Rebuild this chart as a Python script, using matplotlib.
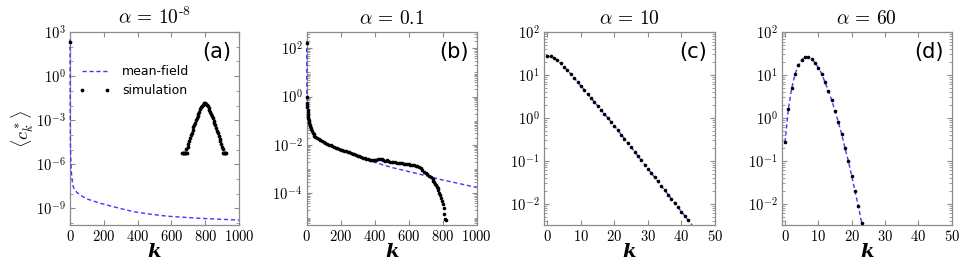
import numpy as np
import matplotlib
matplotlib.use('Agg')
import matplotlib.pyplot as plt
from matplotlib.ticker import FixedLocator, FuncFormatter, LogLocator, NullFormatter

plt.rcParams['mathtext.fontset'] = 'cm'
plt.rcParams['font.family'] = ['DejaVu Sans']

# ---- data (log10 values for the wide panels) ----
titles = [r'$\alpha\,=\,10^{\text{-8}}$', r'$\alpha\,=\,0.1$', r'$\alpha\,=\,10$',
          r'$\alpha\,=\,60$']
panel_tags = ['(a)', '(b)', '(c)', '(d)']

# (a) alpha = 1e-8
a_mf_k = [0, 1, 2, 3, 5, 8, 12, 16, 25, 40, 60, 100, 180, 280, 375, 470, 570, 670, 770, 880, 1000]
a_mf_log = [2.5, -2.0, -4.0, -5.0, -5.8, -6.5, -7.0, -7.4, -7.7, -7.9, -8.09, -8.35, -8.65,
            -8.95, -9.22, -9.38, -9.52, -9.60, -9.67, -9.73, -9.79]
a_sim_k = [0, 664, 668, 672, 676, 680, 684, 688, 692, 696,
           700, 705, 710, 715, 720, 725, 730, 735, 740, 745, 750, 755, 760, 765, 770, 775,
           780, 785, 790, 795, 800, 805, 810, 815, 820, 825, 830, 835, 840, 845, 850, 855,
           860, 865, 870, 875, 880, 885, 890, 895, 900, 904, 908, 912, 916, 920, 924]
a_sim_log = [2.3, -5.25, -5.25, -5.25, -5.25, -5.25, -5.25, -4.95, -5.25, -4.85,
             -4.6, -4.4, -4.22, -4.03, -3.85, -3.66, -3.48, -3.32, -3.16, -3.0, -2.85, -2.71,
             -2.55, -2.41, -2.27, -2.13, -2.02, -1.94, -1.88, -1.85, -1.85, -1.89, -1.95, -2.03,
             -2.15, -2.29, -2.43, -2.58, -2.73, -2.88, -3.04, -3.19, -3.35, -3.52, -3.70, -3.88,
             -4.07, -4.25, -4.43, -4.62, -4.8, -4.95, -5.25, -5.25, -5.25, -5.25, -5.25]

# (b) alpha = 0.1
b_mf_k = [0, 1, 2, 5, 10, 20, 40, 80, 150, 250, 350, 400, 500, 600, 700, 800, 900, 1000]
b_mf_log = [2.3, 0.0, -0.3, -0.6, -0.88, -1.22, -1.55, -1.8, -2.05, -2.33, -2.58, -2.72,
            -2.93, -3.10, -3.27, -3.45, -3.60, -3.76]
b_sim_k = [0, 1, 2, 3, 4, 5, 6, 7, 8, 9, 10, 12, 14, 16, 18, 20, 23, 26, 30, 35, 40, 45, 50,
           60, 70, 80, 90, 100, 110, 120, 130, 140, 150, 160, 170, 180, 190, 200, 210, 220,
           230, 240, 250, 260, 270, 280, 290, 300, 310, 320, 330, 340, 350, 360, 370, 380,
           390, 400, 410, 420, 430, 440, 450, 460, 470, 480, 490, 500, 510, 520, 530, 540,
           550, 560, 570, 580, 590, 600, 610, 620, 630, 640, 650, 660, 670, 680, 690, 700,
           710, 720, 730, 740, 745, 750, 755, 760, 765, 770, 775, 780, 785, 790, 795, 800,
           805, 810, 815, 820]
b_sim_log = [2.2, 0.0, -0.25, -0.35, -0.45, -0.55, -0.62, -0.70, -0.76, -0.83, -0.88, -0.96,
             -1.04, -1.10, -1.16, -1.22, -1.29, -1.35, -1.42, -1.49, -1.55, -1.61, -1.65,
             -1.72, -1.77, -1.80, -1.85, -1.88, -1.92, -1.94, -1.99, -2.01, -2.05, -2.07,
             -2.11, -2.12, -2.16, -2.19, -2.21, -2.24, -2.25, -2.29, -2.31, -2.33, -2.37,
             -2.38, -2.42, -2.44, -2.47, -2.48, -2.52, -2.53, -2.57, -2.58, -2.61, -2.62,
             -2.64, -2.64, -2.63, -2.60, -2.56, -2.60, -2.62, -2.66, -2.63, -2.68, -2.70,
             -2.69, -2.72, -2.71, -2.74, -2.73, -2.76, -2.75, -2.78, -2.77, -2.80, -2.80,
             -2.82, -2.83, -2.84, -2.86, -2.88, -2.92, -2.97, -3.03, -3.10, -3.16, -3.22,
             -3.28, -3.34, -3.42, -3.47, -3.53, -3.60, -3.66, -3.72, -3.78, -3.86, -3.97,
             -4.06, -4.18, -4.30, -4.45, -4.62, -4.85, -5.05, -5.1]

# (c) alpha = 10
c_sim = [26.9, 26.9, 24.8, 21.7, 18.5, 15.3, 12.7, 10.5, 8.5, 6.9, 5.5, 4.5, 3.6, 2.9, 2.36,
         1.90, 1.53, 1.24, 1.0, 0.81, 0.65, 0.52, 0.41, 0.33, 0.26, 0.206, 0.164, 0.130,
         0.103, 0.082, 0.065, 0.052, 0.041, 0.033, 0.026, 0.0206, 0.0164, 0.0130, 0.0103,
         0.0082, 0.0065, 0.0052, 0.0041]
c_mf = c_sim + [0.0033, 0.0026]

# (d) alpha = 60
d_sim = [0.27, 1.6, 4.9, 10.4, 16.9, 22.5, 26.5, 25.9, 23.3, 19.2, 14.7, 10.7, 6.7, 4.3,
         2.6, 1.44, 0.79, 0.42, 0.195, 0.099, 0.045, 0.0195, 0.0087, 0.0036]
d_mf = d_sim + [0.0015]

blue = '#3a3aff'
spine_col = '0.55'


def log_label(v, pos):
    return r'$\mathbf{10^{%d}}$' % int(round(np.log10(v)))


def int_label(v, pos):
    return r'$\mathbf{%d}$' % int(round(v))


fig = plt.figure(figsize=(9.69, 2.65), dpi=100)
W, H = 969.0, 265.0
lefts = [70, 306.7, 544, 781.7]
widths = [169, 170, 171, 170]
axes = [fig.add_axes([l / W, 40 / H, w / W, 193 / H]) for l, w in zip(lefts, widths)]

# draw data (wide panels: the k=0 part sits on the spine, so no clipping there)
ax = axes[0]
ax.plot(a_mf_k, 10 ** np.array(a_mf_log), '--', color=blue, lw=1, dashes=(3, 2),
        label='mean-field', zorder=2.6, clip_on=False)
ax.plot(a_sim_k, 10 ** np.array(a_sim_log), 'o', color='black', ms=2.7, mew=0,
        label='simulation', zorder=3, clip_on=False)

ax = axes[1]
ax.plot(b_mf_k, 10 ** np.array(b_mf_log), '--', color=blue, lw=1, dashes=(3, 2), zorder=2.6,
        clip_on=False)
ax.plot(b_sim_k, 10 ** np.array(b_sim_log), 'o', color='black', ms=2.6, mew=0, zorder=3,
        clip_on=False)

ax = axes[2]
ax.plot(range(len(c_mf)), c_mf, '--', color=blue, lw=1, dashes=(3, 2), zorder=2)
ax.plot(range(len(c_sim)), c_sim, 'o', color='black', ms=2.6, mew=0, zorder=3)

ax = axes[3]
ax.plot(range(len(d_mf)), d_mf, '--', color=blue, lw=1, dashes=(3, 2), zorder=2)
ax.plot(range(len(d_sim)), d_sim, 'o', color='black', ms=2.6, mew=0, zorder=3)

# axes styling
xlims = [(0, 1000), (0, 1000), (-1, 50), (-1, 50)]
xticks = [range(0, 1001, 200), range(0, 1001, 200), range(0, 51, 10), range(0, 51, 10)]
ylims = [(7.5e-11, 1e3), (4.9e-6, 470), (3.2e-3, 100), (3.2e-3, 100)]
yticks = [[1e3, 1e0, 1e-3, 1e-6, 1e-9], [1e2, 1e0, 1e-2, 1e-4],
          [1e2, 1e1, 1e0, 1e-1, 1e-2], [1e2, 1e1, 1e0, 1e-1, 1e-2]]
minor_subs = [(1.0,), np.arange(1, 10), np.arange(2, 10), np.arange(2, 10)]

for i, ax in enumerate(axes):
    ax.set_yscale('log')
    ax.set_xlim(*xlims[i])
    ax.set_ylim(*ylims[i])
    ax.xaxis.set_major_locator(FixedLocator(list(xticks[i])))
    ax.xaxis.set_major_formatter(FuncFormatter(int_label))
    ax.yaxis.set_major_locator(FixedLocator(yticks[i]))
    ax.yaxis.set_major_formatter(FuncFormatter(log_label))
    ax.yaxis.set_minor_locator(LogLocator(base=10, subs=minor_subs[i], numticks=100))
    ax.yaxis.set_minor_formatter(NullFormatter())
    for s in ax.spines.values():
        s.set_color(spine_col)
        s.set_linewidth(0.9)
    ax.tick_params(which='both', direction='in', top=True, right=True, color=spine_col,
                   labelsize=10.5, pad=3)
    ax.tick_params(which='major', length=3.5, width=0.8)
    ax.tick_params(which='minor', length=2, width=0.6)
    ax.set_title(titles[i], fontsize=14, pad=6)
    ax.set_xlabel('k', fontsize=14, family='DejaVu Serif', style='italic', weight='bold',
                  labelpad=-1)
    ax.text(0.955, 0.895, panel_tags[i], transform=ax.transAxes, ha='right', va='center',
            fontsize=15)

axes[0].set_ylabel(r'$\langle c_k^* \rangle$', fontsize=13, labelpad=0)
axes[0].legend(loc='center left', bbox_to_anchor=(0.02, 0.745), frameon=False, fontsize=9,
               numpoints=2, handlelength=2.6, handletextpad=0.9, labelspacing=0.5,
               borderaxespad=0)

fig.savefig('out.png', dpi=100)
